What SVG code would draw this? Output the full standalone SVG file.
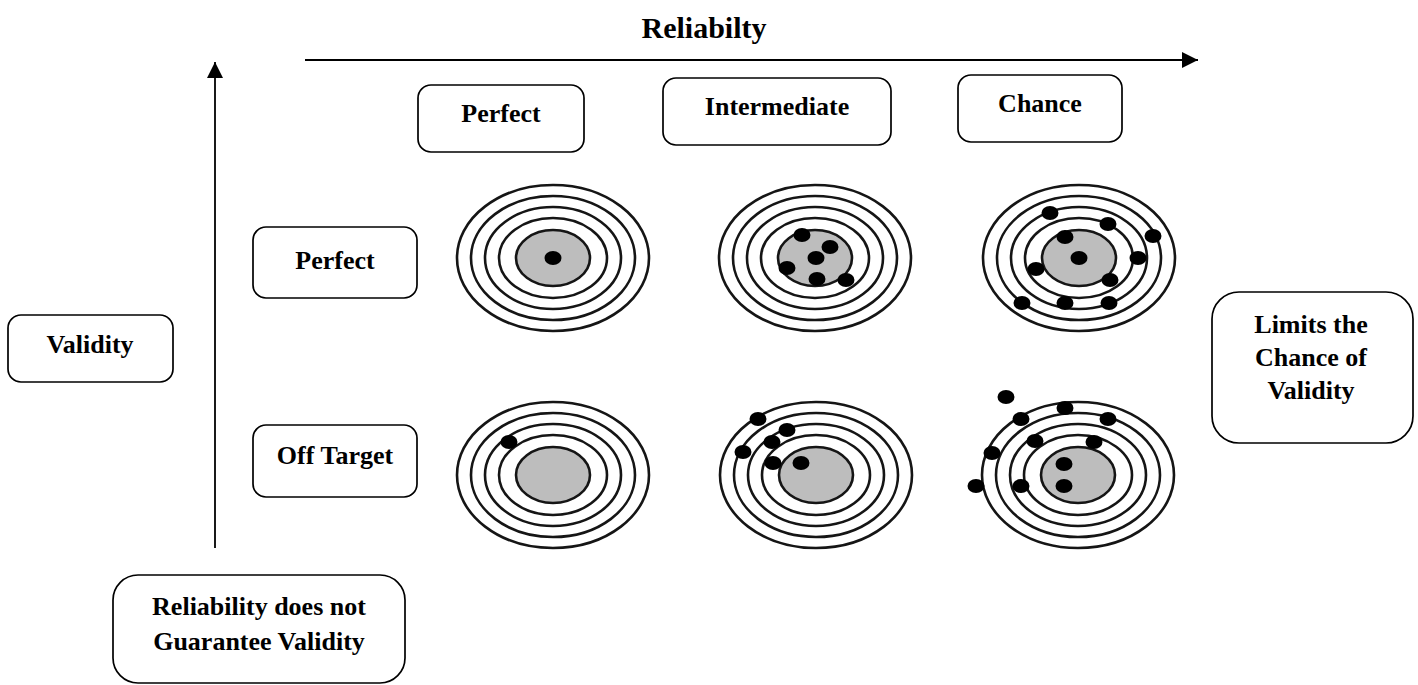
<svg xmlns="http://www.w3.org/2000/svg" xmlns:xlink="http://www.w3.org/1999/xlink" width="1418" height="685" viewBox="0 0 1418 685">
<style>
.box{fill:#fff;stroke:#000;stroke-width:1.7}
.lbl{font-family:"Liberation Serif","Times New Roman",serif;font-weight:bold;font-size:26px;fill:#000;text-anchor:middle}
.title{font-size:30px}
.ring{fill:none;stroke:#151515;stroke-width:2.6}
.bull{fill:#bdbdbd;stroke:#151515;stroke-width:2.6}
.dot{fill:#000}
.axis{stroke:#000;stroke-width:1.8;fill:none}
</style>
<defs>
<marker id="ah" viewBox="0 0 16 16" refX="16" refY="8" markerWidth="16" markerHeight="16" markerUnits="userSpaceOnUse" orient="auto">
<path d="M0,0 L16,8 L0,16 Z" fill="#000"/>
</marker>
<g id="target">
<ellipse class="ring" rx="96" ry="73"/>
<ellipse class="ring" rx="82" ry="62"/>
<ellipse class="ring" rx="68" ry="51"/>
<ellipse class="ring" rx="54" ry="40"/>
<ellipse class="bull" rx="37" ry="28"/>
</g>
<ellipse id="d" class="dot" rx="8.5" ry="7"/>
</defs>
<rect width="1418" height="685" fill="#fff"/>

<g id="connectors">
<line class="axis" x1="305" y1="60" x2="1198" y2="60" marker-end="url(#ah)"/>
<line class="axis" x1="215" y1="548" x2="215" y2="62" marker-end="url(#ah)"/>
</g>

<g id="title-reliability"><text class="lbl title" x="704" y="38">Reliabilty</text></g>

<g id="col-perfect"><rect class="box" x="418" y="85" width="166" height="67" rx="13"/><text class="lbl" x="501" y="122">Perfect</text></g>
<g id="col-intermediate"><rect class="box" x="663" y="78" width="228" height="67" rx="13"/><text class="lbl" x="777" y="115">Intermediate</text></g>
<g id="col-chance"><rect class="box" x="958" y="75" width="164" height="67" rx="13"/><text class="lbl" x="1040" y="112">Chance</text></g>

<g id="row-perfect"><rect class="box" x="253" y="227" width="164" height="71" rx="13"/><text class="lbl" x="335" y="269">Perfect</text></g>
<g id="row-offtarget"><rect class="box" x="253" y="425" width="164" height="72" rx="13"/><text class="lbl" x="335" y="464">Off Target</text></g>

<g id="validity"><rect class="box" x="8" y="315" width="165" height="67" rx="13"/><text class="lbl" x="90" y="353">Validity</text></g>

<g id="limits"><rect class="box" x="1212" y="292" width="201" height="151" rx="27"/>
<text class="lbl" x="1311" y="333">Limits the</text>
<text class="lbl" x="1311" y="366">Chance of</text>
<text class="lbl" x="1311" y="399">Validity</text></g>

<g id="guarantee"><rect class="box" x="113" y="575" width="292" height="108" rx="25"/>
<text class="lbl" x="259" y="615">Reliability does not</text>
<text class="lbl" x="259" y="650">Guarantee Validity</text></g>

<g id="target-perfect-perfect">
<use xlink:href="#target" x="553" y="258"/>
<use xlink:href="#d" x="553" y="258"/>
</g>
<g id="target-perfect-intermediate">
<use xlink:href="#target" x="815" y="258"/>
<use xlink:href="#d" x="802" y="235"/><use xlink:href="#d" x="830" y="247"/><use xlink:href="#d" x="816" y="258"/>
<use xlink:href="#d" x="787" y="268"/><use xlink:href="#d" x="817" y="279"/><use xlink:href="#d" x="846" y="280"/>
</g>
<g id="target-perfect-chance">
<use xlink:href="#target" x="1079" y="258"/>
<use xlink:href="#d" x="1050" y="213"/><use xlink:href="#d" x="1108" y="224"/><use xlink:href="#d" x="1153" y="236"/>
<use xlink:href="#d" x="1065" y="237"/><use xlink:href="#d" x="1079" y="258"/><use xlink:href="#d" x="1138" y="258"/>
<use xlink:href="#d" x="1036" y="269"/><use xlink:href="#d" x="1110" y="280"/><use xlink:href="#d" x="1022" y="303"/>
<use xlink:href="#d" x="1065" y="303"/><use xlink:href="#d" x="1109" y="303"/>
</g>
<g id="target-off-perfect">
<use xlink:href="#target" x="553" y="475"/>
<use xlink:href="#d" x="509" y="442"/>
</g>
<g id="target-off-intermediate">
<use xlink:href="#target" x="816" y="475"/>
<use xlink:href="#d" x="758" y="419"/><use xlink:href="#d" x="787" y="430"/><use xlink:href="#d" x="772" y="442"/>
<use xlink:href="#d" x="743" y="452"/><use xlink:href="#d" x="773" y="463"/><use xlink:href="#d" x="801" y="463"/>
</g>
<g id="target-off-chance">
<use xlink:href="#target" x="1078" y="475"/>
<use xlink:href="#d" x="1006" y="397"/><use xlink:href="#d" x="1065" y="408"/><use xlink:href="#d" x="1021" y="419"/>
<use xlink:href="#d" x="1108" y="419"/><use xlink:href="#d" x="1035" y="441"/><use xlink:href="#d" x="1094" y="442"/>
<use xlink:href="#d" x="992" y="453"/><use xlink:href="#d" x="1064" y="464"/><use xlink:href="#d" x="976" y="486"/>
<use xlink:href="#d" x="1021" y="486"/><use xlink:href="#d" x="1064" y="486"/>
</g>
</svg>
